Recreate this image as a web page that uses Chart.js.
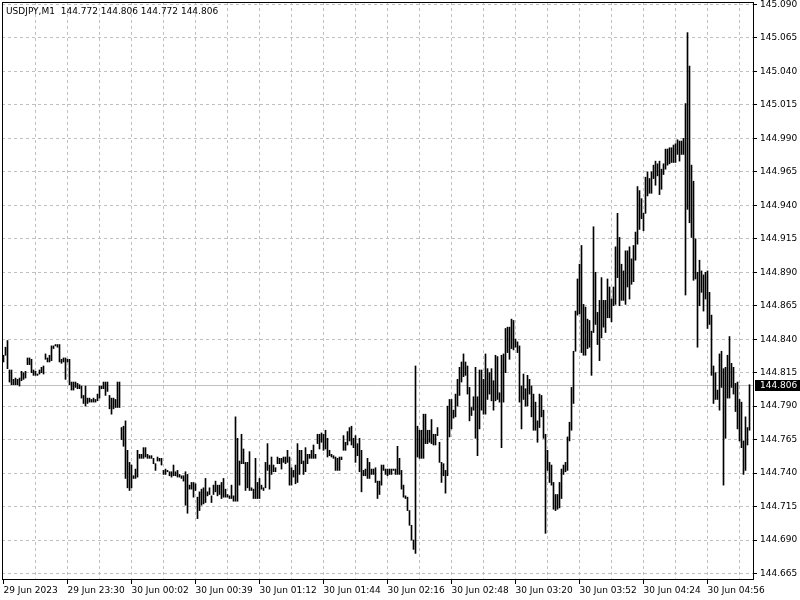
<!DOCTYPE html>
<html>
<head>
<meta charset="utf-8">
<script src="https://cdn.jsdelivr.net/npm/chart.js@4/dist/chart.umd.min.js"></script>
<style>
    html, body { margin: 0; padding: 0; background: #fff; }
    #chart { display: block; }
</style>
</head>
<body>
<canvas id="chart" width="800" height="600"></canvas>
<script>
// USDJPY M1 bar chart, MetaTrader style

const symbol = 'USDJPY,M1';
const lastBar = { open: 144.772, high: 144.806, low: 144.772, close: 144.806 };

// one minute bars, oldest first
const highs = [
    144.828, 144.834, 144.839, 144.817, 144.817, 144.810, 144.811, 144.810, 144.811, 144.816, 144.815, 144.816, 144.826, 144.826, 144.825, 144.817,
    144.816, 144.814, 144.817, 144.819, 144.820, 144.829, 144.826, 144.828, 144.835, 144.835, 144.836, 144.836, 144.836, 144.825, 144.826, 144.826,
    144.825, 144.825, 144.808, 144.808, 144.808, 144.807, 144.806, 144.805, 144.798, 144.805, 144.796, 144.796, 144.795, 144.796, 144.795, 144.799,
    144.805, 144.805, 144.808, 144.808, 144.808, 144.798, 144.796, 144.796, 144.795, 144.808, 144.808, 144.774, 144.775, 144.779, 144.757, 144.748,
    144.746, 144.738, 144.743, 144.757, 144.754, 144.754, 144.759, 144.759, 144.754, 144.753, 144.753, 144.751, 144.747, 144.752, 144.751, 144.751,
    144.742, 144.743, 144.742, 144.741, 144.741, 144.746, 144.741, 144.742, 144.739, 144.738, 144.738, 144.741, 144.739, 144.731, 144.733, 144.733,
    144.732, 144.722, 144.726, 144.728, 144.729, 144.736, 144.726, 144.729, 144.723, 144.731, 144.734, 144.731, 144.731, 144.733, 144.736, 144.728,
    144.724, 144.723, 144.731, 144.723, 144.782, 144.766, 144.749, 144.769, 144.758, 144.748, 144.748, 144.756, 144.729, 144.728, 144.751, 144.733,
    144.736, 144.731, 144.729, 144.748, 144.762, 144.746, 144.752, 144.746, 144.744, 144.752, 144.751, 144.751, 144.752, 144.752, 144.757, 144.752,
    144.744, 144.742, 144.746, 144.762, 144.757, 144.757, 144.749, 144.759, 144.754, 144.754, 144.757, 144.761, 144.754, 144.769, 144.769, 144.770,
    144.769, 144.772, 144.766, 144.757, 144.754, 144.753, 144.752, 144.751, 144.752, 144.752, 144.768, 144.763, 144.771, 144.774, 144.775, 144.766,
    144.768, 144.762, 144.766, 144.757, 144.742, 144.743, 144.751, 144.748, 144.743, 144.743, 144.744, 144.734, 144.734, 144.746, 144.746, 144.743,
    144.743, 144.743, 144.743, 144.743, 144.743, 144.760, 144.751, 144.742, 144.731, 144.723, 144.722, 144.712, 144.701, 144.690, 144.820, 144.775,
    144.772, 144.772, 144.784, 144.784, 144.772, 144.772, 144.780, 144.769, 144.769, 144.774, 144.763, 144.748, 144.747, 144.742, 144.790, 144.795,
    144.795, 144.787, 144.799, 144.810, 144.819, 144.823, 144.829, 144.823, 144.820, 144.804, 144.789, 144.797, 144.819, 144.797, 144.817, 144.817,
    144.810, 144.829, 144.818, 144.815, 144.818, 144.809, 144.828, 144.827, 144.800, 144.828, 144.829, 144.848, 144.849, 144.849, 144.855, 144.854,
    144.840, 144.838, 144.835, 144.805, 144.814, 144.803, 144.813, 144.810, 144.805, 144.799, 144.793, 144.779, 144.799, 144.798, 144.787, 144.769,
    144.757, 144.748, 144.746, 144.733, 144.724, 144.724, 144.733, 144.743, 144.746, 144.748, 144.767, 144.778, 144.804, 144.831, 144.861, 144.885,
    144.896, 144.910, 144.866, 144.864, 144.855, 144.854, 144.846, 144.924, 144.890, 144.860, 144.869, 144.886, 144.869, 144.869, 144.885, 144.879,
    144.870, 144.879, 144.909, 144.934, 144.916, 144.896, 144.891, 144.906, 144.906, 144.909, 144.900, 144.910, 144.920, 144.954, 144.951, 144.945,
    144.934, 144.961, 144.965, 144.960, 144.965, 144.970, 144.973, 144.971, 144.973, 144.967, 144.971, 144.982, 144.982, 144.983, 144.983, 144.985,
    144.986, 144.989, 144.988, 144.988, 144.990, 145.016, 145.069, 145.044, 144.970, 144.958, 144.915, 144.890, 144.899, 144.891, 144.888, 144.890,
    144.891, 144.875, 144.858, 144.820, 144.815, 144.802, 144.829, 144.831, 144.818, 144.819, 144.828, 144.842, 144.822, 144.819, 144.807, 144.808,
    144.795, 144.793, 144.764, 144.782, 144.774, 144.806
];

const lows = [
    144.823, 144.828, 144.818, 144.808, 144.806, 144.806, 144.806, 144.806, 144.805, 144.809, 144.810, 144.811, 144.821, 144.821, 144.815, 144.813,
    144.813, 144.813, 144.814, 144.815, 144.814, 144.825, 144.823, 144.823, 144.824, 144.833, 144.835, 144.834, 144.823, 144.822, 144.823, 144.810,
    144.823, 144.806, 144.802, 144.802, 144.804, 144.803, 144.803, 144.796, 144.792, 144.790, 144.792, 144.793, 144.793, 144.793, 144.793, 144.794,
    144.796, 144.803, 144.803, 144.798, 144.801, 144.788, 144.784, 144.788, 144.789, 144.789, 144.789, 144.765, 144.760, 144.736, 144.729, 144.727,
    144.729, 144.736, 144.736, 144.737, 144.751, 144.751, 144.751, 144.752, 144.751, 144.751, 144.751, 144.747, 144.742, 144.749, 144.749, 144.746,
    144.739, 144.739, 144.741, 144.738, 144.737, 144.738, 144.738, 144.737, 144.737, 144.736, 144.734, 144.716, 144.710, 144.728, 144.728, 144.722,
    144.727, 144.706, 144.712, 144.716, 144.717, 144.718, 144.723, 144.724, 144.718, 144.724, 144.726, 144.723, 144.724, 144.721, 144.722, 144.722,
    144.722, 144.721, 144.721, 144.719, 144.719, 144.719, 144.731, 144.747, 144.747, 144.727, 144.729, 144.727, 144.727, 144.721, 144.721, 144.721,
    144.721, 144.728, 144.727, 144.729, 144.742, 144.728, 144.739, 144.741, 144.741, 144.747, 144.747, 144.743, 144.748, 144.747, 144.748, 144.731,
    144.731, 144.737, 144.732, 144.733, 144.739, 144.747, 144.739, 144.741, 144.747, 144.751, 144.751, 144.751, 144.751, 144.762, 144.758, 144.763,
    144.757, 144.758, 144.752, 144.753, 144.752, 144.751, 144.742, 144.742, 144.742, 144.750, 144.757, 144.757, 144.761, 144.764, 144.761, 144.759,
    144.748, 144.753, 144.741, 144.726, 144.738, 144.738, 144.736, 144.736, 144.739, 144.739, 144.733, 144.721, 144.724, 144.731, 144.742, 144.739,
    144.738, 144.739, 144.739, 144.742, 144.739, 144.739, 144.739, 144.728, 144.722, 144.721, 144.712, 144.701, 144.690, 144.683, 144.680, 144.752,
    144.751, 144.751, 144.751, 144.762, 144.762, 144.763, 144.762, 144.761, 144.761, 144.768, 144.748, 144.733, 144.738, 144.725, 144.738, 144.767,
    144.773, 144.781, 144.782, 144.790, 144.798, 144.808, 144.812, 144.813, 144.799, 144.779, 144.783, 144.787, 144.766, 144.753, 144.773, 144.787,
    144.784, 144.784, 144.795, 144.799, 144.794, 144.787, 144.794, 144.795, 144.793, 144.759, 144.793, 144.815, 144.830, 144.825, 144.833, 144.832,
    144.834, 144.830, 144.793, 144.773, 144.795, 144.790, 144.790, 144.799, 144.782, 144.772, 144.772, 144.763, 144.774, 144.782, 144.766, 144.695,
    144.742, 144.733, 144.731, 144.713, 144.712, 144.713, 144.714, 144.721, 144.739, 144.741, 144.742, 144.764, 144.772, 144.792, 144.831, 144.858,
    144.859, 144.830, 144.828, 144.828, 144.833, 144.834, 144.813, 144.845, 144.851, 144.836, 144.824, 144.841, 144.849, 144.845, 144.856, 144.856,
    144.853, 144.865, 144.866, 144.886, 144.865, 144.869, 144.869, 144.866, 144.879, 144.870, 144.881, 144.883, 144.899, 144.911, 144.922, 144.930,
    144.921, 144.934, 144.947, 144.949, 144.949, 144.960, 144.955, 144.962, 144.948, 144.952, 144.963, 144.967, 144.970, 144.971, 144.972, 144.972,
    144.972, 144.978, 144.973, 144.978, 144.978, 144.873, 144.937, 144.927, 144.916, 144.884, 144.885, 144.834, 144.865, 144.875, 144.861, 144.870,
    144.848, 144.851, 144.813, 144.792, 144.795, 144.795, 144.787, 144.804, 144.731, 144.766, 144.796, 144.796, 144.804, 144.799, 144.786, 144.773,
    144.764, 144.759, 144.739, 144.742, 144.761, 144.772
];

// price axis labels
const priceTicks = [
    144.665, 144.690, 144.715, 144.740, 144.765, 144.790, 144.815, 144.840, 144.865,
    144.890, 144.915, 144.940, 144.965, 144.990, 145.015, 145.040, 145.065, 145.090
];

// time axis labels, one every 32 bars
const timeLabels = [
    '29 Jun 2023', '29 Jun 23:30', '30 Jun 00:02', '30 Jun 00:39', '30 Jun 01:12', '30 Jun 01:44',
    '30 Jun 02:16', '30 Jun 02:48', '30 Jun 03:20', '30 Jun 03:52', '30 Jun 04:24', '30 Jun 04:56'
];

const LABEL_EVERY = 32;
const GRID_EVERY = 16;
const FONT = { family: '"DejaVu Sans", sans-serif', size: 9 };
const GRID_COLOR = '#c0c0c0';

// plot is 751 x 577 px: 2 px per bar, 0.025 per 33.47 px
const pxPerPrice = 33.47 / 0.025;
const yMax = 145.090 + 2.5 / pxPerPrice;
const yMin = yMax - 577 / pxPerPrice;

const bars = highs.map((h, i) => ({ x: i, y: [lows[i], h] }));

// keep the plot box fixed, labels may hang over its edges
function noScalePadding(scale) {
    scale.paddingLeft = 0;
    scale.paddingRight = 0;
    scale.paddingTop = 0;
    scale.paddingBottom = 0;
}

// frame, current price line and symbol caption
const terminalLook = {
    id: 'terminalLook',
    beforeDatasetsDraw(chart) {
        const { ctx, chartArea: a, scales: { y } } = chart;
        const py = Math.round(y.getPixelForValue(lastBar.close)) + 0.5;
        ctx.save();
        ctx.strokeStyle = '#c0c0c0';
        ctx.lineWidth = 1;
        ctx.beginPath();
        ctx.moveTo(a.left, py);
        ctx.lineTo(a.right, py);
        ctx.stroke();
        ctx.restore();
    },
    afterDraw(chart) {
        const { ctx, chartArea: a, scales: { y } } = chart;
        ctx.save();
        ctx.strokeStyle = '#000';
        ctx.lineWidth = 1;
        ctx.strokeRect(a.left + 0.5, a.top + 0.5, a.right - a.left, a.bottom - a.top);

        // price tag on the axis
        const py = Math.round(y.getPixelForValue(lastBar.close));
        ctx.fillStyle = '#000';
        ctx.fillRect(a.right + 2, py - 5, chart.width - a.right - 2, 11);
        ctx.fillStyle = '#fff';
        ctx.font = `${FONT.size}px ${FONT.family}`;
        ctx.textBaseline = 'middle';
        ctx.fillText(lastBar.close.toFixed(3), a.right + 7, py + 0.5);

        // caption
        ctx.fillStyle = '#000';
        const caption = `${symbol}  ${lastBar.open.toFixed(3)} ${lastBar.high.toFixed(3)} ${lastBar.low.toFixed(3)} ${lastBar.close.toFixed(3)}`;
        ctx.fillText(caption, a.left + 4, a.top + 10);
        ctx.restore();
    }
};

new Chart(document.getElementById('chart'), {
    type: 'bar',
    data: {
        datasets: [{
            data: bars,
            backgroundColor: '#000',
            borderWidth: 0,
            barThickness: 1,
            minBarLength: 1,
            grouped: false
        }]
    },
    options: {
        responsive: false,
        animation: false,
        events: [],
        layout: { padding: { left: 2, top: 2, right: 0, bottom: 0 } },
        plugins: {
            legend: { display: false },
            tooltip: { enabled: false }
        },
        scales: {
            x: {
                type: 'linear',
                position: 'bottom',
                offset: false,
                min: -0.75,
                max: -0.75 + 751 / 2,
                afterBuildTicks: (scale) => {
                    const ticks = [];
                    for (let v = 0; v < highs.length; v += GRID_EVERY) ticks.push({ value: v });
                    scale.ticks = ticks;
                },
                afterFit: (scale) => {
                    scale.height = 21;
                    noScalePadding(scale);
                },
                grid: {
                    offset: false,
                    color: (c) => (c.tick && c.tick.value === 0 ? 'rgba(0,0,0,0)' : GRID_COLOR),
                    tickColor: (c) => (c.tick && c.tick.value % LABEL_EVERY === 0 ? '#000' : 'rgba(0,0,0,0)'),
                    tickLength: 5,
                    lineWidth: 1
                },
                border: { color: '#000', dash: [3, 3] },
                ticks: {
                    autoSkip: false,
                    maxRotation: 0,
                    minRotation: 0,
                    align: 'start',
                    padding: 1,
                    color: '#000',
                    font: FONT,
                    callback: (v) => (v % LABEL_EVERY === 0 ? timeLabels[v / LABEL_EVERY] || '' : '')
                }
            },
            y: {
                type: 'linear',
                position: 'right',
                min: yMin,
                max: yMax,
                afterBuildTicks: (scale) => {
                    scale.ticks = priceTicks.map((v) => ({ value: v }));
                },
                afterFit: (scale) => {
                    scale.width = 47;
                    noScalePadding(scale);
                },
                grid: {
                    color: GRID_COLOR,
                    tickColor: '#000',
                    tickLength: 4,
                    lineWidth: 1
                },
                border: { color: '#000', dash: [3, 3] },
                ticks: {
                    padding: 3,
                    color: '#000',
                    font: FONT,
                    callback: (v) => v.toFixed(3)
                }
            }
        }
    },
    plugins: [terminalLook]
});
</script>
</body>
</html>
